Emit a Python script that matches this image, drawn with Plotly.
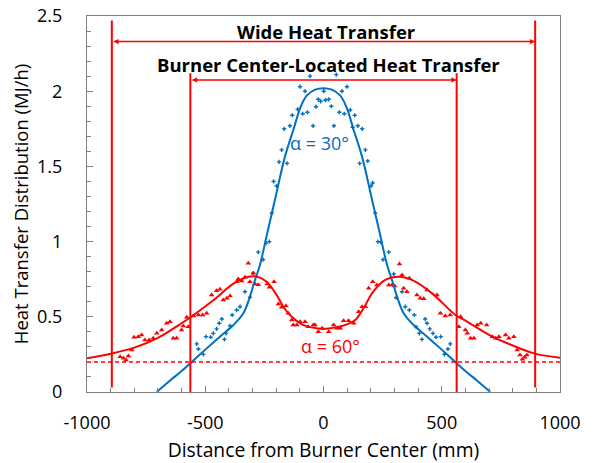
import plotly.graph_objects as go

# ---- measured data: alpha = 30 deg (blue) ----
blue_x = [-57, -99, -78, -22, -12, -32, -109, -68, -88, -132, -142, -166, -44, -177, -188, -154, -211, -198,
          -219, -229, -243, -276, -255, -297, -332, -311, -353, -367, -386, -430, -441, -452, -466, -477, -497,
          -412, -419, -395, -536, -529, -508,
          54, 99, 78, 1, 22, 8, 33, 67, 88, 113, 132, 44, 123, 145, 164, 177, 187, 153, 201, 208,
          219, 230, 243, 276, 252, 297, 332, 307, 346, 363, 384, 430, 438, 449, 463, 476, 496,
          405, 416, 391, 536, 526, 511]
blue_y = [2.10, 2.03, 2.00, 1.946, 1.933, 1.897, 1.88, 1.86, 1.85, 1.84, 1.77, 1.75, 1.77, 1.61, 1.53, 1.52, 1.40, 1.37,
          1.19, 1.00, 0.99, 0.93, 0.88, 0.79, 0.667, 0.63, 0.567, 0.545, 0.512, 0.485, 0.457, 0.42, 0.39, 0.364, 0.368,
          0.39, 0.35, 0.44, 0.32, 0.286, 0.25,
          2.11, 2.03, 2.00, 2.00, 1.946, 1.94, 1.90, 1.86, 1.85, 1.875, 1.84, 1.77, 1.76, 1.77, 1.75, 1.61, 1.536, 1.52, 1.37, 1.39,
          1.19, 1.00, 0.995, 0.93, 0.88, 0.785, 0.667, 0.627, 0.567, 0.545, 0.512, 0.485, 0.457, 0.42, 0.39, 0.364, 0.368,
          0.39, 0.35, 0.434, 0.32, 0.286, 0.25]

# fitted curve, alpha = 30 deg
blue_fit_x = [-705, -650, -607, -564, -494, -438, -381, -339, -311, -294, -268, -238, -205, -163, -128, -99, -71, -35, 0,
              35, 71, 99, 128, 163, 205, 238, 268, 294, 311, 339, 381, 438, 494, 564, 607, 650, 705]
blue_fit_y = [0.0, 0.075, 0.13, 0.19, 0.29, 0.368, 0.445, 0.523, 0.634, 0.723, 0.85, 1.055, 1.28, 1.565, 1.74, 1.886, 1.97, 2.01, 2.02,
              2.01, 1.97, 1.886, 1.74, 1.565, 1.28, 1.055, 0.85, 0.723, 0.634, 0.523, 0.445, 0.368, 0.29, 0.19, 0.13, 0.075, 0.0]

# ---- measured data: alpha = 60 deg (red) ----
red_x = [-860, -846, -835, -825, -811, -801, -783, -769, -755, -737, -720, -705, -684, -663, -649, -635, -621, -600, -593,
         -578, -550, -529, -511, -494, -572,
         -473, -452, -438, -424, -409, -395, -367, -360, -346, -332, -318, -311, -297, -290, -276, -238, -229, -209,
         -191, -177, -159, -149, -134, -128, -113, -99, -78, -64, -43, -36, -22,
         -6, 22, 43, 57, 71, 85, 106, 128, 149, 163, 177, 191, 208, 226, 276, 290, 301, 321, 332, 339, 353, 363,
         395, 409, 424, 438, 480, 494, 515, 536, 572, 580, 600,
         608, 622, 636, 650, 665, 690, 714, 728, 742, 770, 784, 805, 819, 831, 841, 851, 860]
red_y = [0.235, 0.224, 0.213, 0.239, 0.279, 0.364, 0.368, 0.379, 0.346, 0.346, 0.357, 0.39, 0.412, 0.457, 0.467, 0.357, 0.357, 0.412, 0.439,
         0.497, 0.505, 0.512, 0.512, 0.523, 0.434,
         0.645, 0.674, 0.683, 0.612, 0.623, 0.638, 0.733, 0.751, 0.738, 0.763, 0.856, 0.733, 0.79, 0.718, 0.713, 0.718, 0.696, 0.733,
         0.585, 0.563, 0.572, 0.523, 0.479, 0.445, 0.445, 0.467, 0.467, 0.434, 0.445, 0.445, 0.401,
         0.424, 0.401, 0.445, 0.424, 0.424, 0.474, 0.474, 0.457, 0.534, 0.567, 0.567, 0.69, 0.733, 0.711, 0.711, 0.711, 0.705, 0.851, 0.778, 0.69, 0.667, 0.756,
         0.645, 0.623, 0.62, 0.678, 0.645, 0.523, 0.505, 0.512, 0.434, 0.5, 0.412,
         0.39, 0.357, 0.357, 0.445, 0.457, 0.445, 0.368, 0.357, 0.368, 0.379, 0.357, 0.368, 0.279, 0.246, 0.217, 0.231, 0.246]

# fitted curve, alpha = 60 deg
red_fit_x = [-1000, -900, -800, -700, -607, -564, -466, -381, -325, -283, -240, -198, -170, -134, -85, -29, 0,
             29, 78, 134, 177, 205, 261, 318, 374, 459, 558, 607, 700, 777, 890, 1000]
red_fit_y = [0.225, 0.255, 0.295, 0.36, 0.45, 0.495, 0.61, 0.72, 0.763, 0.768, 0.733, 0.645, 0.567, 0.5, 0.445, 0.424, 0.42,
             0.424, 0.439, 0.479, 0.578, 0.656, 0.745, 0.767, 0.745, 0.656, 0.512, 0.468, 0.38, 0.324, 0.257, 0.228]

# axis ticks
x_ticks = [-1000, -500, 0, 500, 1000]
x_tick_labels = ["-1000", "-500", "0", "500", "1000"]
y_ticks = [0, 0.5, 1, 1.5, 2, 2.5]
y_tick_labels = ["0", "0.5", "1", "1.5", "2", "2.5"]

# region boundaries and reference level
wide_bounds = [-895, 895]
center_bounds = [-563, 563]
wide_top, wide_bottom, wide_arrow_y = 2.47, 0.03, 2.33
center_top, center_arrow_y = 2.12, 2.075
threshold = 0.2

BLUE = "#0070C0"
RED = "#FF0000"
FONT = "Open Sans"

fig = go.Figure()

fig.add_trace(go.Scatter(x=blue_x, y=blue_y, mode="markers",
                         marker=dict(symbol="cross", size=3.5, color=BLUE), showlegend=False))
fig.add_trace(go.Scatter(x=red_x, y=red_y, mode="markers",
                         marker=dict(symbol="triangle-up", size=5, color=RED), showlegend=False))
fig.add_trace(go.Scatter(x=blue_fit_x, y=blue_fit_y, mode="lines", line_shape="spline",
                         line=dict(color=BLUE, width=2), showlegend=False))
fig.add_trace(go.Scatter(x=red_fit_x, y=red_fit_y, mode="lines", line_shape="spline",
                         line=dict(color=RED, width=2), showlegend=False))

# dashed threshold line
fig.add_trace(go.Scatter(x=[-1000, 1000], y=[threshold, threshold], mode="lines",
                         line=dict(color=RED, width=1.5, dash="4px,3px"), showlegend=False))

# vertical region boundaries
for xb in wide_bounds:
    fig.add_trace(go.Scatter(x=[xb, xb], y=[wide_bottom, wide_top], mode="lines",
                             line=dict(color=RED, width=2), showlegend=False))
for xb in center_bounds:
    fig.add_trace(go.Scatter(x=[xb, xb], y=[0, center_top], mode="lines",
                             line=dict(color=RED, width=2), showlegend=False))

# double-headed span arrows
for (x0, x1), ya in [(wide_bounds, wide_arrow_y), (center_bounds, center_arrow_y)]:
    fig.add_annotation(x=x1, y=ya, ax=x0, ay=ya, xref="x", yref="y", axref="x", ayref="y",
                       showarrow=True, arrowside="end+start", arrowhead=2, startarrowhead=2,
                       arrowsize=0.7, startarrowsize=0.7, arrowwidth=1.5, arrowcolor=RED, text="")

fig.add_annotation(x=14, y=2.40, text="<b>Wide Heat Transfer</b>", showarrow=False,
                   font=dict(family=FONT, size=18.5, color="black"))
fig.add_annotation(x=23, y=2.18, text="<b>Burner Center-Located Heat Transfer</b>", showarrow=False,
                   font=dict(family=FONT, size=18.5, color="black"))
fig.add_annotation(x=-15, y=1.656, text="α = 30°", showarrow=False,
                   font=dict(family=FONT, size=18, color=BLUE))
fig.add_annotation(x=28, y=0.306, text="α = 60°", showarrow=False,
                   font=dict(family=FONT, size=18, color=RED))

axis_common = dict(showline=True, linecolor="#7f7f7f", linewidth=1, mirror=True, showgrid=False,
                   zeroline=False, ticks="inside", tickcolor="#7f7f7f", ticklen=6, automargin=False,
                   tickfont=dict(family=FONT, size=18, color="black"))

fig.update_xaxes(range=[-1000, 1000], tickvals=x_ticks, ticktext=x_tick_labels,
                 minor=dict(dtick=100, ticks="inside", ticklen=4, tickcolor="#7f7f7f"),
                 ticklabelstandoff=14,
                 title_text="Distance from Burner Center (mm)", title_standoff=11,
                 title_font=dict(family=FONT, size=19.3, color="black"), **axis_common)
fig.update_yaxes(range=[0, 2.5], tickvals=y_ticks, ticktext=y_tick_labels,
                 minor=dict(dtick=0.1, ticks="inside", ticklen=4, tickcolor="#7f7f7f"),
                 ticklabelstandoff=20,
                 title_text="Heat Transfer Distribution (MJ/h)", title_standoff=3,
                 title_font=dict(family=FONT, size=18.5, color="black"), **axis_common)

fig.update_layout(width=594, height=463, margin=dict(l=87, r=34, t=16, b=71),
                  plot_bgcolor="white", paper_bgcolor="white")

fig.write_html("out.html")
